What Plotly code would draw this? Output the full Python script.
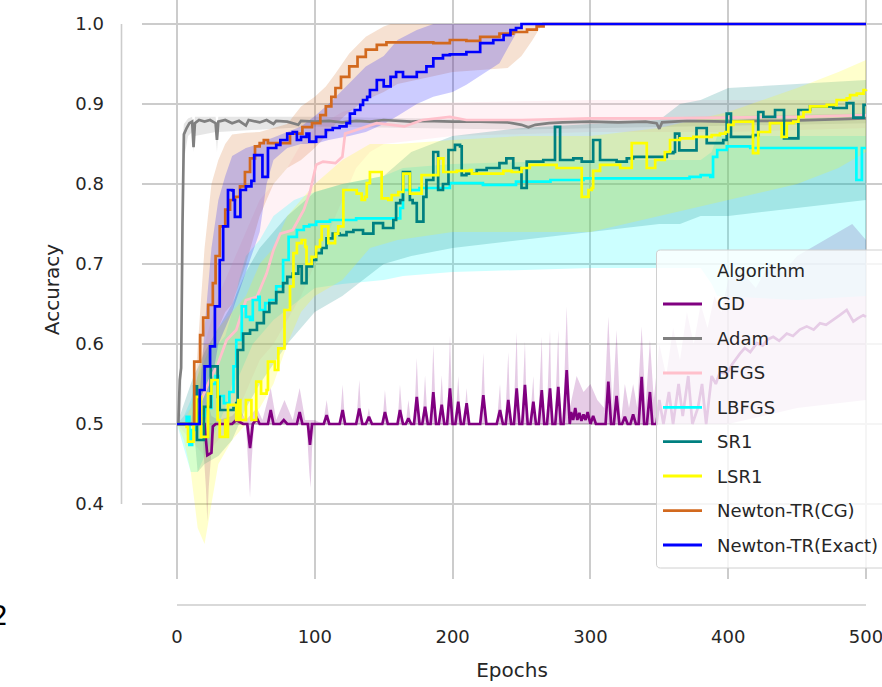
import plotly.graph_objects as go

# ---------------- data ----------------
algorithms = ["GD", "Adam", "BFGS", "LBFGS", "SR1", "LSR1", "Newton-TR(CG)", "Newton-TR(Exact)"]
colors = ["#800080", "#808080", "#FFC0CB", "#00FFFF", "#008080", "#FFFF00", "#D2691E", "#0000FF"]

x_ticks = [0, 100, 200, 300, 400, 500]
y_ticks = [0.4, 0.5, 0.6, 0.7, 0.8, 0.9, 1.0]
y_tick_labels = ["0.4", "0.5", "0.6", "0.7", "0.8", "0.9", "1.0"]

# GD mean
gd_x = [0, 17, 20, 21, 22, 25, 26, 28, 40, 43, 48, 51, 53, 55, 58, 60, 66, 68, 70, 75, 77.5, 80, 87, 89, 91, 95, 96.5, 98,
        106.5, 108.6, 110.5, 118, 120.2, 122, 130, 132.3, 134.5, 137, 139.3, 141.5, 149, 150.9, 153, 160, 161.8, 164,
        166, 167.9, 170, 172, 174, 176, 178, 180, 182, 184, 186, 188, 190, 192.1, 194, 196, 198.1, 200, 202, 204.1, 206,
        208, 210.2, 212, 220, 222.3, 224.5, 232, 234.4, 236.5, 238.5, 240.4, 242.5, 244.5, 246.5, 248.5, 250.5, 252.5,
        254.5, 256.5, 258.6, 260.5, 262.5, 264.7, 266.5, 268.5, 270.7, 272.5, 274.5, 276.7, 278.5, 280.5, 282.8, 285,
        286, 287.5, 289, 290.5, 292, 293.5, 295, 296.5, 298, 300, 302, 304, 311, 313, 315, 317, 319, 321, 323, 325, 327,
        329, 331, 333, 335, 337.2, 339, 341, 343.2, 345, 348, 350, 353, 357, 360, 364, 367, 371, 374, 378, 381, 384, 388,
        391, 394, 399, 403, 408.5, 412, 416, 420.7, 425, 429, 432.7, 437, 442.5, 447, 452, 457, 462, 466.6, 471, 476.3,
        481, 486, 490.8, 494, 498, 500]
gd_y = [0.5, 0.5, 0.5, 0.48, 0.461, 0.464, 0.497, 0.5, 0.5, 0.505, 0.5, 0.5, 0.47, 0.5, 0.507, 0.5, 0.5, 0.5175, 0.5,
        0.5, 0.505, 0.5, 0.5, 0.515, 0.5, 0.5, 0.474, 0.5,
        0.5, 0.511, 0.5, 0.5, 0.5175, 0.5, 0.5, 0.5195, 0.5, 0.5, 0.509, 0.5, 0.5, 0.515, 0.5, 0.5, 0.5175, 0.5,
        0.5, 0.507, 0.5, 0.5, 0.534, 0.5, 0.5, 0.5215, 0.5, 0.5, 0.54, 0.5, 0.5, 0.524, 0.5, 0.5, 0.5445, 0.5, 0.5, 0.528, 0.5,
        0.5, 0.526, 0.5, 0.5, 0.536, 0.5, 0.5, 0.5175, 0.5, 0.5, 0.53, 0.5, 0.5, 0.5445, 0.5, 0.5, 0.549,
        0.5, 0.5, 0.528, 0.5, 0.5, 0.5425, 0.5, 0.5, 0.5445, 0.5, 0.5, 0.5465, 0.5, 0.5, 0.5675, 0.5,
        0.515, 0.505, 0.52, 0.505, 0.514, 0.504, 0.512, 0.505, 0.515, 0.5, 0.51, 0.5, 0.5, 0.553, 0.5, 0.5, 0.535, 0.5, 0.5, 0.509, 0.5,
        0.5, 0.512, 0.5, 0.5, 0.559, 0.5, 0.5, 0.54, 0.5, 0.5, 0.53, 0.5, 0.54, 0.5, 0.55, 0.51, 0.56, 0.5, 0.52, 0.55, 0.5, 0.56,
        0.55, 0.565, 0.563, 0.575, 0.588, 0.595, 0.59, 0.601, 0.598, 0.606, 0.609, 0.604, 0.613, 0.61, 0.618, 0.622, 0.618, 0.626, 0.624, 0.63,
        0.636, 0.6425, 0.628, 0.632, 0.636, 0.634]
gd_hi_x = [0, 15, 20, 22, 25, 30, 40, 45, 50, 58, 62, 68, 72, 78, 84, 89, 93, 100, 106, 108.6, 111, 118, 120.2, 122, 130,
           132.3, 134, 137, 139.3, 141, 149, 150.9, 153, 160, 161.8, 164, 166, 167.9, 170, 172, 174, 176, 178, 180, 182,
           184, 186, 188, 190, 192.1, 194, 196, 198.1, 200, 202, 204.1, 206, 208, 210.2, 212, 220, 222.3, 224, 232, 234.4,
           236, 238, 240.4, 242, 244, 246.5, 248, 250, 252.5, 254, 256, 258.6, 260, 262, 264.7, 266, 268, 270.7, 272, 274,
           276.7, 278, 280, 282.8, 285, 290, 295, 300, 305, 310, 313, 316, 319, 322, 325, 328, 331, 334, 337.2, 340, 343.2,
           346, 350, 355, 360, 365, 370, 375, 380, 385, 390, 395, 400, 410, 420, 430, 440, 450, 460, 470, 480, 490, 500]
gd_hi = [0.5, 0.5, 0.52, 0.53, 0.51, 0.505, 0.51, 0.52, 0.505, 0.52, 0.505, 0.545, 0.505, 0.53, 0.505, 0.545, 0.505, 0.505,
         0.5, 0.53, 0.5, 0.5, 0.549, 0.5, 0.5, 0.555, 0.5, 0.5, 0.52, 0.5, 0.5, 0.5425, 0.5, 0.5, 0.549, 0.5, 0.5, 0.53, 0.5,
         0.5, 0.5825, 0.5, 0.5, 0.561, 0.5, 0.5, 0.599, 0.5, 0.5, 0.561, 0.5, 0.5, 0.611, 0.5, 0.5, 0.56, 0.5, 0.5, 0.545, 0.5,
         0.5, 0.589, 0.5, 0.5, 0.55, 0.5, 0.5, 0.59, 0.5, 0.5, 0.615, 0.5, 0.5, 0.603, 0.5, 0.5, 0.56, 0.5, 0.5, 0.609, 0.5,
         0.5, 0.6175, 0.5, 0.5, 0.6175, 0.5, 0.5, 0.647, 0.52, 0.56, 0.54, 0.55, 0.53, 0.52, 0.634, 0.52, 0.6175, 0.5, 0.55,
         0.52, 0.55, 0.52, 0.622, 0.52, 0.605, 0.53, 0.6, 0.56, 0.62, 0.58, 0.64, 0.6, 0.65, 0.62, 0.66, 0.64, 0.68, 0.69,
         0.67, 0.7, 0.69, 0.71, 0.72, 0.73, 0.74, 0.75, 0.73]
gd_lo_x = [0, 18, 21, 22, 23, 26, 28, 50, 52, 53, 54, 56, 94, 96, 97, 98, 100, 345, 400, 450, 500]
gd_lo = [0.5, 0.5, 0.42, 0.378, 0.42, 0.49, 0.5, 0.5, 0.44, 0.4075, 0.45, 0.5, 0.5, 0.44, 0.42, 0.47, 0.5, 0.5, 0.5, 0.52, 0.53]

# Adam
adam_x = [0, 1, 2, 3, 4, 5, 7, 9, 11, 12, 13, 16, 20, 24, 28, 29, 30, 35, 40, 45, 50, 52, 60, 65, 70, 72, 80, 88, 90, 100,
          110, 120, 130, 140, 150, 160, 170, 180, 200, 220, 240, 250, 255, 260, 270, 280, 300, 320, 340, 348, 350, 352,
          370, 400, 420, 440, 460, 480, 500]
adam_y = [0.5, 0.5, 0.555, 0.57, 0.75, 0.862, 0.87, 0.876, 0.878, 0.846, 0.876, 0.88, 0.878, 0.88, 0.876, 0.855, 0.878,
          0.88, 0.876, 0.879, 0.873, 0.88, 0.877, 0.88, 0.875, 0.879, 0.878, 0.874, 0.879, 0.878,
          0.879, 0.877, 0.879, 0.878, 0.88, 0.879, 0.878, 0.879, 0.878, 0.878, 0.877, 0.874, 0.871, 0.874, 0.876, 0.877,
          0.878, 0.877, 0.878, 0.876, 0.869, 0.877, 0.879, 0.878, 0.879, 0.879, 0.88, 0.881, 0.882]
adam_band_x = [0, 2, 3, 4, 5, 8, 11, 12, 13, 28, 29, 30, 100, 250, 500]
adam_hi = [0.5, 0.56, 0.6, 0.85, 0.875, 0.882, 0.884, 0.86, 0.884, 0.884, 0.87, 0.884, 0.884, 0.88, 0.888]
adam_lo = [0.5, 0.5, 0.52, 0.65, 0.83, 0.86, 0.865, 0.84, 0.86, 0.865, 0.84, 0.865, 0.872, 0.868, 0.876]

# BFGS
bfgs_x = [0, 12, 15, 20, 25, 29, 36, 43, 50, 58, 65, 70, 75, 84, 92, 96.5, 101, 106, 115, 120, 122, 130, 145, 165, 178,
          198, 210, 250, 300, 350, 400, 450, 500]
bfgs_y = [0.5, 0.5, 0.52, 0.54, 0.56, 0.572, 0.605, 0.6175, 0.655, 0.659, 0.688, 0.7175, 0.738, 0.7425, 0.7675, 0.79,
          0.824, 0.828, 0.826, 0.834, 0.863, 0.8675, 0.876, 0.872, 0.88, 0.884, 0.88, 0.88, 0.882, 0.882, 0.883, 0.884, 0.886]
bfgs_band_x = [0, 10, 20, 30, 40, 50, 60, 70, 80, 90, 100, 110, 120, 130, 140, 150, 200, 300, 400, 500]
bfgs_hi = [0.5, 0.52, 0.6, 0.66, 0.7, 0.74, 0.78, 0.8, 0.82, 0.85, 0.87, 0.88, 0.89, 0.895, 0.9, 0.9, 0.902, 0.905, 0.905, 0.905]
bfgs_lo = [0.5, 0.48, 0.46, 0.48, 0.5, 0.54, 0.58, 0.6, 0.63, 0.66, 0.7, 0.74, 0.78, 0.82, 0.84, 0.85, 0.86, 0.865, 0.865, 0.87]

# LBFGS
lbfgs_x = [0, 5, 7, 9, 11, 13, 15, 20, 25, 28, 30, 34, 38, 41, 43, 47, 50, 53, 55, 59, 60, 64, 67, 72, 77, 81, 87, 92, 96,
           101, 111, 121, 130, 155, 162, 164, 176, 198, 222, 246, 271, 295, 355, 372, 380, 387, 389, 392, 399, 416, 491,
           493, 497, 500]
lbfgs_y = [0.5, 0.5, 0.509, 0.474, 0.4925, 0.5, 0.51, 0.52, 0.55, 0.56, 0.535, 0.526, 0.54, 0.572, 0.605, 0.647, 0.634,
           0.63, 0.655, 0.659, 0.6425, 0.651, 0.655, 0.672, 0.705, 0.734, 0.7425, 0.747, 0.749, 0.753, 0.755, 0.755, 0.757,
           0.757, 0.77, 0.7925, 0.795, 0.801, 0.799, 0.803, 0.805, 0.807, 0.807, 0.809, 0.811, 0.809, 0.834, 0.8425, 0.847,
           0.845, 0.845, 0.805, 0.845, 0.845]
lbfgs_band_x = [0, 5, 10, 15, 20, 25, 30, 35, 40, 45, 50, 55, 60, 70, 85, 100, 120, 150, 164, 200, 300, 380, 388, 392, 450, 500]
lbfgs_hi = [0.5, 0.51, 0.53, 0.56, 0.58, 0.6, 0.6, 0.61, 0.64, 0.68, 0.71, 0.72, 0.73, 0.76, 0.78, 0.79, 0.8, 0.81, 0.82,
            0.825, 0.83, 0.83, 0.84, 0.86, 0.86, 0.86]
lbfgs_lo = [0.5, 0.47, 0.44, 0.44, 0.46, 0.48, 0.5, 0.52, 0.55, 0.56, 0.58, 0.6, 0.61, 0.63, 0.65, 0.67, 0.675, 0.68, 0.685,
            0.69, 0.695, 0.695, 0.675, 0.66, 0.655, 0.66]

# SR1
sr1_x = [0, 12.5, 14.5, 19.5, 24.5, 29.5, 31, 41, 43, 44, 48, 53, 58, 63, 67, 72, 77, 80, 84, 88, 90.5, 94, 98, 101, 105,
         108.5, 113, 118, 123, 128, 135, 142.5, 149.5, 157, 159, 162, 164, 169, 171, 174, 178.8, 181, 186, 189.5, 193, 197,
         201.7, 205.4, 206.6, 210, 217.5, 224.7, 234, 239, 244, 248.9, 250, 253.8, 265.8, 274.3, 278, 287.6, 293.7, 302,
         307, 319, 326.4, 331, 355.4, 360.2, 361.4, 364.5, 377, 384.4, 396.4, 398.9, 402, 418, 421.8, 425.5, 434, 440.5,
         450.9, 459.4, 476.3, 486, 490.8, 498.2, 500]
sr1_y = [0.5, 0.547, 0.48, 0.5215, 0.572, 0.534, 0.5175, 0.52, 0.526, 0.5925, 0.613, 0.6175, 0.626, 0.64, 0.651, 0.665,
         0.676, 0.684, 0.688, 0.697, 0.676, 0.697, 0.705, 0.7135, 0.72, 0.732, 0.738, 0.736, 0.74, 0.7425, 0.738, 0.751,
         0.745, 0.755, 0.776, 0.78, 0.815, 0.78, 0.776, 0.753, 0.784, 0.805, 0.84, 0.7925, 0.8, 0.8425, 0.849, 0.847, 0.811,
         0.813, 0.8175, 0.82, 0.826, 0.832, 0.82, 0.8175, 0.795, 0.828, 0.83, 0.8715, 0.83, 0.832, 0.828, 0.855, 0.83, 0.828,
         0.832, 0.834, 0.8385, 0.84, 0.863, 0.842, 0.87, 0.851, 0.855, 0.888, 0.859, 0.861, 0.89, 0.884, 0.8925, 0.857,
         0.8925, 0.897, 0.895, 0.901, 0.883, 0.899, 0.899]
sr1_band_x = [0, 12, 15, 20, 30, 40, 50, 60, 80, 100, 120, 150, 170, 200, 250, 300, 350, 365, 380, 400, 450, 500]
sr1_hi = [0.5, 0.56, 0.57, 0.59, 0.62, 0.65, 0.69, 0.72, 0.76, 0.79, 0.8, 0.81, 0.84, 0.86, 0.87, 0.875, 0.88, 0.9, 0.905,
          0.92, 0.925, 0.93]
sr1_lo = [0.5, 0.5, 0.44, 0.45, 0.46, 0.48, 0.52, 0.55, 0.6, 0.64, 0.66, 0.7, 0.71, 0.72, 0.73, 0.74, 0.75, 0.75, 0.76,
          0.76, 0.77, 0.78]

# LSR1
lsr1_x = [0, 7, 8, 12, 14, 17.5, 22.5, 25, 29.5, 31, 35, 36, 37, 43, 44.5, 46, 50, 54, 57.5, 61, 65, 66, 71, 73.5, 78, 82,
          84.5, 87, 90.5, 93, 94, 97.7, 101, 103.8, 105, 109.8, 114.7, 117, 120.7, 130.4, 134, 136.4, 137.7, 140, 148.5,
          153.3, 155.8, 160.6, 164.2, 169, 177.5, 189.6, 193.3, 203, 212.6, 213.9, 236.8, 242.9, 250, 256, 275.5, 293.7,
          298.6, 301, 302, 307, 321.6, 330, 340.9, 347, 354, 357.8, 365, 374.7, 388, 394, 398, 400, 403.8, 418, 421.8,
          430.3, 438.8, 442.5, 447.3, 451, 454.6, 459.4, 471.5, 478.7, 486, 488.4, 493.3, 498.2, 500]
lsr1_y = [0.5, 0.4965, 0.478, 0.5, 0.534, 0.484, 0.538, 0.555, 0.505, 0.484, 0.505, 0.484, 0.524, 0.505, 0.53, 0.505, 0.53,
          0.505, 0.553, 0.538, 0.5425, 0.578, 0.5675, 0.5945, 0.6425, 0.672, 0.7135, 0.726, 0.73, 0.7215, 0.7, 0.709, 0.7215,
          0.73, 0.747, 0.726, 0.738, 0.747, 0.7925, 0.788, 0.78, 0.784, 0.801, 0.815, 0.782, 0.78, 0.786, 0.79, 0.813, 0.788,
          0.811, 0.832, 0.815, 0.8165, 0.8175, 0.813, 0.8165, 0.815, 0.82, 0.824, 0.82, 0.784, 0.7925, 0.795, 0.8165, 0.824,
          0.82, 0.851, 0.82, 0.83, 0.84, 0.855, 0.857, 0.859, 0.861, 0.863, 0.865, 0.874, 0.878, 0.8385, 0.865, 0.876, 0.859,
          0.876, 0.878, 0.884, 0.89, 0.897, 0.899, 0.905, 0.907, 0.911, 0.913, 0.9175, 0.918]
lsr1_band_x = [0, 5, 10, 15, 20, 25, 30, 40, 50, 60, 70, 80, 90, 100, 120, 140, 160, 200, 250, 300, 350, 400, 450, 480, 500]
lsr1_hi = [0.5, 0.5, 0.52, 0.56, 0.6, 0.6, 0.62, 0.64, 0.66, 0.7, 0.72, 0.76, 0.78, 0.8, 0.83, 0.85, 0.85, 0.855, 0.86,
           0.86, 0.87, 0.89, 0.92, 0.94, 0.955]
lsr1_lo = [0.5, 0.48, 0.44, 0.37, 0.35, 0.4, 0.45, 0.48, 0.5, 0.52, 0.55, 0.6, 0.64, 0.66, 0.68, 0.72, 0.73, 0.74, 0.74,
           0.74, 0.76, 0.78, 0.8, 0.82, 0.84]

# Newton-TR(CG)
cg_x = [0, 12.5, 16.8, 19, 22.6, 26, 28, 31, 35, 38.5, 42, 45.7, 49.3, 53, 56.6, 60, 63, 66, 70, 74, 78, 82, 91, 98, 104,
        108, 112, 115, 119, 125, 131, 137, 145, 152, 174, 186, 198, 210, 220, 234, 244, 254, 261, 266, 500]
cg_y = [0.5, 0.578, 0.611, 0.633, 0.649, 0.676, 0.71, 0.747, 0.768, 0.78, 0.784, 0.797, 0.815, 0.832, 0.847, 0.851, 0.855,
        0.851, 0.851, 0.851, 0.851, 0.863, 0.871, 0.876, 0.886, 0.897, 0.909, 0.92, 0.934, 0.947, 0.959, 0.968, 0.974,
        0.977, 0.977, 0.976, 0.98, 0.979, 0.984, 0.988, 0.99, 0.993, 0.997, 1.0, 1.0]
cg_band_x = [0, 10, 12, 15, 20, 25, 30, 35, 40, 50, 60, 70, 80, 90, 100, 108, 115, 125, 137, 150, 155, 160, 200, 240, 250,
             258, 265, 500]
cg_hi = [0.5, 0.5, 0.52, 0.6, 0.72, 0.8, 0.83, 0.85, 0.862, 0.864, 0.865, 0.87, 0.875, 0.897, 0.909, 0.922, 0.938, 0.963,
         0.984, 0.997, 1.0, 1.0, 1.0, 1.0, 1.0, 1.0, 1.0, 1.0]
cg_lo = [0.5, 0.5, 0.5, 0.5, 0.55, 0.6, 0.62, 0.64, 0.65, 0.7, 0.76, 0.8, 0.82, 0.83, 0.845, 0.86, 0.875, 0.89, 0.905,
         0.915, 0.92, 0.925, 0.94, 0.945, 0.96, 0.98, 1.0, 1.0]

# Newton-TR(Exact)
ex_x = [0, 16, 16.5, 20, 24, 27.5, 31, 33.5, 37, 40, 41, 42, 44.5, 46, 50, 54, 56, 60, 62, 65, 66, 72, 75, 80, 84, 87, 90,
        94, 96, 101, 108, 113, 118, 123, 125.5, 129, 133, 135, 138, 140, 145, 150, 155, 159, 164, 174, 181, 186, 193, 198,
        210, 220, 229.5, 237, 242, 246, 250, 500]
ex_y = [0.5, 0.5, 0.5425, 0.572, 0.597, 0.647, 0.705, 0.747, 0.7925, 0.792, 0.78, 0.759, 0.759, 0.7925, 0.797, 0.804,
        0.836, 0.836, 0.809, 0.809, 0.845, 0.849, 0.855, 0.863, 0.865, 0.855, 0.859, 0.863, 0.853, 0.859, 0.8675, 0.87,
        0.872, 0.876, 0.888, 0.8925, 0.899, 0.905, 0.909, 0.9175, 0.93, 0.922, 0.934, 0.94, 0.934, 0.94, 0.947, 0.957,
        0.961, 0.962, 0.965, 0.976, 0.98, 0.986, 0.9925, 0.995, 1.0, 1.0]
ex_band_x = [0, 15, 20, 25, 30, 35, 40, 50, 60, 65, 70, 80, 90, 100, 110, 125, 137, 150, 160, 174, 186, 200, 210, 234, 242,
             250, 500]
ex_hi = [0.5, 0.5, 0.62, 0.72, 0.78, 0.81, 0.835, 0.845, 0.85, 0.855, 0.858, 0.865, 0.872, 0.885, 0.9, 0.926, 0.947, 0.96,
         0.98, 0.9925, 1.0, 1.0, 1.0, 1.0, 1.0, 1.0, 1.0]
ex_lo = [0.5, 0.5, 0.5, 0.55, 0.6, 0.62, 0.64, 0.69, 0.74, 0.8, 0.83, 0.845, 0.85, 0.85, 0.855, 0.86, 0.865, 0.875, 0.885,
         0.9, 0.909, 0.915, 0.924, 0.951, 0.976, 1.0, 1.0]

# ---------------- layout constants ----------------
W, H = 882, 687
ML, MR, MT, MB = 142, 0, 0, 108
PW, PH = W - ML - MR, H - MT - MB
X_RANGE = [-25.4, 511.6]
Y_RANGE = [0.30625, 1.03]
FONT = "DejaVu Sans"
TXT = "#262626"
GRID = "#cccccc"


def px_x(px):
    return (px - ML) / PW


def px_y(py):
    return (MT + PH - py) / PH


def rgba(hex_color, a):
    h = hex_color.lstrip("#")
    return "rgba(%d,%d,%d,%s)" % (int(h[0:2], 16), int(h[2:4], 16), int(h[4:6], 16), a)


series = [
    (gd_x, gd_y, "linear", gd_hi_x, gd_hi, gd_lo_x, gd_lo),
    (adam_x, adam_y, "linear", adam_band_x, adam_hi, adam_band_x, adam_lo),
    (bfgs_x, bfgs_y, "linear", bfgs_band_x, bfgs_hi, bfgs_band_x, bfgs_lo),
    (lbfgs_x, lbfgs_y, "hv", lbfgs_band_x, lbfgs_hi, lbfgs_band_x, lbfgs_lo),
    (sr1_x, sr1_y, "hv", sr1_band_x, sr1_hi, sr1_band_x, sr1_lo),
    (lsr1_x, lsr1_y, "hv", lsr1_band_x, lsr1_hi, lsr1_band_x, lsr1_lo),
    (cg_x, cg_y, "hv", cg_band_x, cg_hi, cg_band_x, cg_lo),
    (ex_x, ex_y, "hv", ex_band_x, ex_hi, ex_band_x, ex_lo),
]

fig = go.Figure()

# confidence bands
for (name, color, s) in zip(algorithms, colors, series):
    x, y, shape, hx, hy, lx, ly = s
    fig.add_trace(go.Scatter(
        x=list(hx) + list(lx)[::-1], y=list(hy) + list(ly)[::-1],
        fill="toself", fillcolor=rgba(color, 0.2), line=dict(width=0), mode="lines",
        hoverinfo="skip", showlegend=False, name=name + " band"))

# mean lines
for (name, color, s) in zip(algorithms, colors, series):
    x, y, shape, hx, hy, lx, ly = s
    fig.add_trace(go.Scatter(x=x, y=y, mode="lines", name=name,
                             line=dict(color=color, width=2.7, shape=shape), showlegend=False))

shapes = []
# offset spines (seaborn despine with offset/trim)
shapes.append(dict(type="line", xref="paper", yref="y", x0=px_x(121.5), x1=px_x(121.5),
                   y0=y_ticks[0], y1=y_ticks[-1], line=dict(color=GRID, width=1.6), layer="below"))
shapes.append(dict(type="line", xref="x", yref="paper", x0=x_ticks[0], x1=x_ticks[-1],
                   y0=px_y(605), y1=px_y(605), line=dict(color=GRID, width=1.6), layer="below"))

# manual legend (matplotlib style, semi-transparent white box)
bx0, bx1, by0, by1 = px_x(656.5), px_x(900), px_y(250), px_y(568)
rx, ry = 4 / PW, 4 / PH
path = ("M %f,%f L %f,%f Q %f,%f %f,%f L %f,%f Q %f,%f %f,%f L %f,%f Z" % (
    bx1, by0, bx0 + rx, by0, bx0, by0, bx0, by0 - ry, bx0, by1 + ry, bx0, by1, bx0 + rx, by1, bx1, by1))
shapes.append(dict(type="path", xref="paper", yref="paper", path=path,
                   fillcolor="rgba(255,255,255,0.8)", line=dict(color="#d0d0d0", width=1), layer="above"))

annotations = []
leg_rows = [270, 304, 338.5, 373, 407.3, 441.7, 476, 510.7, 545]
annotations.append(dict(x=px_x(715), y=px_y(leg_rows[0]), xref="paper", yref="paper", text="Algorithm",
                        showarrow=False, xanchor="left", yanchor="middle", font=dict(family=FONT, size=18, color=TXT)))
for i, (name, color) in enumerate(zip(algorithms, colors)):
    yy = px_y(leg_rows[i + 1])
    shapes.append(dict(type="line", xref="paper", yref="paper", x0=px_x(663), x1=px_x(702), y0=yy, y1=yy,
                       line=dict(color=color, width=2.8), layer="above"))
    annotations.append(dict(x=px_x(715), y=yy, xref="paper", yref="paper", text=name, showarrow=False,
                            xanchor="left", yanchor="middle", font=dict(family=FONT, size=18, color=TXT)))

# cropped panel label at the far left edge (it is cut by the image border in the reference too)
annotations.append(dict(x=px_x(-1), y=px_y(615), xref="paper", yref="paper", text="2", showarrow=False,
                        xanchor="center", yanchor="middle", font=dict(family=FONT, size=27, color="#000000")))

fig.update_layout(
    width=W, height=H, template="none",
    margin=dict(l=ML, r=MR, t=MT, b=MB, pad=0),
    paper_bgcolor="white", plot_bgcolor="white",
    font=dict(family=FONT, color=TXT, size=17),
    showlegend=False,
    shapes=shapes, annotations=annotations,
    xaxis=dict(range=X_RANGE, tickvals=x_ticks, ticktext=[str(v) for v in x_ticks], showgrid=True,
               gridcolor=GRID, gridwidth=1.5, zeroline=False, showline=False, ticks="",
               ticklabelstandoff=45, ticklabeloverflow="allow",
               tickfont=dict(family=FONT, size=18, color=TXT), automargin=False,
               title=dict(text="Epochs", font=dict(family=FONT, size=20, color=TXT), standoff=16)),
    yaxis=dict(range=Y_RANGE, tickvals=y_ticks, ticktext=y_tick_labels, showgrid=True,
               gridcolor=GRID, gridwidth=1.5, zeroline=False, showline=False, ticks="",
               ticklabelstandoff=37, ticklabeloverflow="allow",
               tickfont=dict(family=FONT, size=18, color=TXT), automargin=False,
               title=dict(text="Accuracy", font=dict(family=FONT, size=20, color=TXT), standoff=10)),
)

fig.write_html("out.html", config={"displayModeBar": False},
               post_script="document.body.style.margin='0px';document.body.style.padding='0px';")
